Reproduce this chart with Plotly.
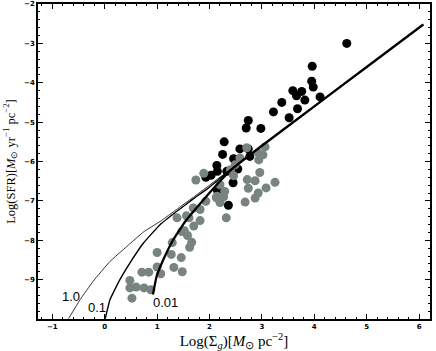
import plotly.graph_objects as go

# model curves (log Sigma_g, log SFR)
curve_labels = ["1.0", "0.1", "0.01"]

thin_x = [-0.69, -0.47, -0.22, 0.10, 0.42, 0.74, 1.06, 1.37, 1.69, 1.98, 2.5, 3.5, 4.5, 5.5, 6.08]
thin_y = [-9.99, -9.51, -9.04, -8.54, -8.16, -7.79, -7.52, -7.22, -6.91, -6.62, -6.10, -5.10, -4.10, -3.10, -2.52]

mid_x = [0.01, 0.10, 0.29, 0.48, 0.74, 1.06, 1.37, 1.69, 1.98, 2.3, 3.0, 4.0, 5.0, 6.08]
mid_y = [-9.99, -9.51, -9.00, -8.58, -8.07, -7.60, -7.27, -6.95, -6.67, -6.32, -5.60, -4.60, -3.60, -2.52]

thick_x = [0.92, 0.99, 1.12, 1.31, 1.56, 1.82, 2.01, 2.2, 2.45, 3.0, 4.0, 5.0, 6.08]
thick_y = [-9.38, -8.92, -8.49, -7.98, -7.48, -7.07, -6.78, -6.50, -6.17, -5.60, -4.60, -3.60, -2.52]

# observed regions
black_x = [4.62, 3.96, 3.95, 3.98, 3.59, 3.76, 3.66, 3.82, 4.11, 3.38, 3.68, 3.22, 3.52,
           2.74, 2.70, 2.98, 2.28, 2.25, 2.58, 2.74, 2.46, 2.54, 2.77, 2.14, 2.15, 2.33,
           2.54, 1.93, 2.45, 2.15, 2.36, 2.03]
black_y = [-3.00, -3.58, -3.96, -4.11, -4.20, -4.22, -4.33, -4.44, -4.36, -4.50, -4.66, -4.74, -4.89,
           -4.96, -5.15, -5.16, -5.50, -5.82, -5.68, -5.68, -5.93, -5.95, -5.87, -6.10, -6.25, -6.25,
           -6.19, -6.40, -6.54, -6.73, -7.11, -6.35]

gray_x = [0.52, 0.48, 0.48, 0.60, 0.75, 0.88, 0.71, 0.84, 1.07, 1.00, 1.32, 1.48,
          1.00, 1.27, 1.46, 1.29, 1.62, 1.66, 1.47, 1.58, 1.52, 1.70, 1.82, 1.61,
          1.38, 1.56, 1.69, 1.82, 1.93, 2.13, 2.20, 2.32, 2.29, 2.20, 1.74, 1.89,
          2.46, 2.40, 2.49, 2.58, 2.71, 2.93, 3.06, 3.02, 2.94, 2.96, 2.72, 2.87,
          2.74, 2.93, 3.08, 3.25, 2.87, 2.68, 2.14, 2.27]
gray_y = [-9.47, -9.02, -9.21, -9.19, -9.21, -9.26, -8.81, -8.81, -8.85, -8.68, -8.69, -8.80,
          -8.31, -8.36, -8.44, -8.06, -8.18, -8.05, -7.78, -7.88, -7.76, -7.64, -7.50, -7.43,
          -7.43, -7.38, -7.18, -7.22, -7.01, -6.92, -7.04, -7.43, -6.76, -6.59, -6.47, -6.30,
          -6.36, -6.21, -6.08, -5.91, -5.65, -5.78, -5.63, -5.83, -5.96, -6.28, -6.46, -6.49,
          -6.68, -6.80, -6.67, -6.53, -6.93, -7.03, -6.88, -6.90]

label_x = [-0.64, -0.15, 1.16]
label_y = [-9.43, -9.70, -9.59]

x_ticks = [-1, 0, 1, 2, 3, 4, 5, 6]
y_ticks = [-9, -8, -7, -6, -5, -4, -3, -2]

fig = go.Figure()

fig.add_trace(go.Scatter(x=black_x, y=black_y, mode="markers",
                         marker=dict(color="black", size=9, line=dict(width=0))))
fig.add_trace(go.Scatter(x=gray_x, y=gray_y, mode="markers",
                         marker=dict(color="#798480", size=9, line=dict(width=0))))

for xs, ys, w in [(thin_x, thin_y, 0.8), (mid_x, mid_y, 1.4), (thick_x, thick_y, 2.3)]:
    fig.add_trace(go.Scatter(x=xs, y=ys, mode="lines",
                             line=dict(color="black", width=w, shape="spline", smoothing=0.3)))

for t, lx, ly in zip(curve_labels, label_x, label_y):
    fig.add_annotation(x=lx, y=ly, text=t, showarrow=False,
                       font=dict(family="Liberation Sans", size=13, color="black"))

axis_common = dict(
    showgrid=False, zeroline=False, showline=True, linecolor="black", linewidth=1.5,
    mirror="allticks", ticks="inside", ticklen=5, tickwidth=1, tickcolor="black",
    tickfont=dict(family="DejaVu Sans", size=7, color="black", weight="bold"),
    minor=dict(ticks="inside", ticklen=2.5, dtick=0.2, tickcolor="black", tickwidth=1),
    automargin=False,
)

fig.update_xaxes(range=[-1.273, 6.208], tickvals=x_ticks, **axis_common,
                 title=dict(text="Log(Σ<sub><i>g</i></sub>)[<i>M</i><sub>⊙</sub> pc<sup>−2</sup>]",
                            font=dict(family="Liberation Serif", size=15, color="black"),
                            standoff=2))
fig.update_yaxes(range=[-10, -2], tickvals=y_ticks, **axis_common,
                 title=dict(text="Log(SFR)[<i>M</i><sub>⊙</sub> yr<sup>−1</sup> pc<sup>−2</sup>]",
                            font=dict(family="Liberation Serif", size=12.5, color="black"),
                            standoff=6))

fig.update_layout(width=436, height=351, showlegend=False,
                  margin=dict(l=38, r=6, t=4, b=32),
                  plot_bgcolor="white", paper_bgcolor="white")

# page has a default body margin; drop it so the figure sits at the window corner
fig.write_html("out.html", config={"displayModeBar": False},
               post_script="document.body.style.margin='0';document.body.style.overflow='hidden';")
